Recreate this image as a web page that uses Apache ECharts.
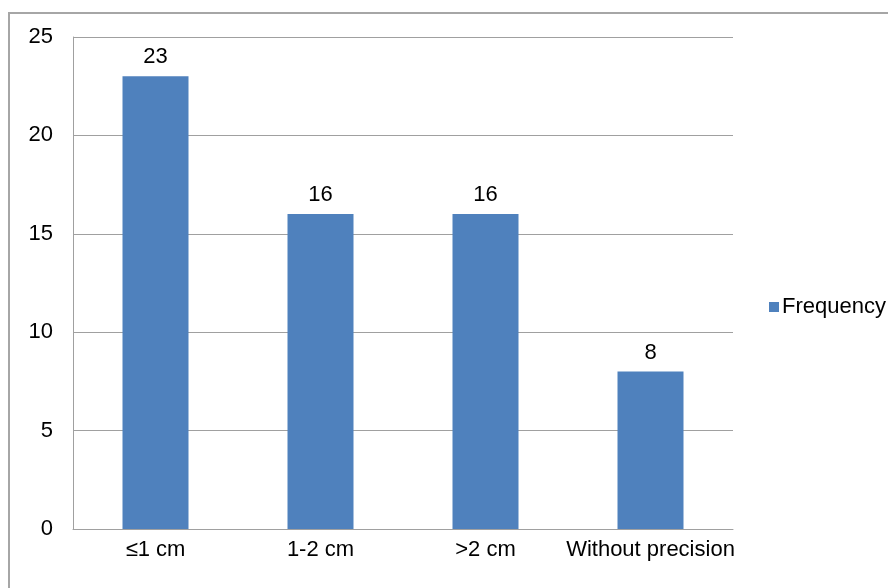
<!DOCTYPE html>
<html>
<head>
<meta charset="utf-8">
<script src="https://cdn.jsdelivr.net/npm/echarts@6/dist/echarts.min.js"></script>
<style>
  html, body { margin: 0; padding: 0; background: #fff; }
  #chart { width: 888px; height: 588px; }
</style>
</head>
<body>
<div id="chart"></div>
<script>
// Tumour size groups and their counts
const categories = ['≤1 cm', '1-2 cm', '>2 cm', 'Without precision'];
const frequency = [23, 16, 16, 8];
const seriesName = 'Frequency';

const FONT = '"Liberation Sans", Arial, sans-serif';
const FS = 22;
const chart = echarts.init(document.getElementById('chart'), null, { renderer: 'canvas' });

chart.setOption({
  animation: false,
  backgroundColor: '#ffffff',
  textStyle: { fontFamily: FONT },
  graphic: [{
    type: 'polyline',
    shape: { points: [[9, 588], [9, 13], [888, 13]] },
    style: { stroke: '#a6a6a6', lineWidth: 2, fill: null },
    silent: true
  }],
  legend: {
    data: [seriesName],
    left: 764,
    top: 291,
    orient: 'vertical',
    icon: 'rect',
    itemWidth: 10,
    itemHeight: 10,
    itemGap: 5,
    textStyle: { fontFamily: FONT, fontSize: FS, color: '#000', padding: [0, 0, 0, -2] }
  },
  grid: { left: 73, right: 155, top: 37, bottom: 59, containLabel: false },
  xAxis: {
    type: 'category',
    data: categories,
    axisLine: { show: true, lineStyle: { color: '#a0a0a0', width: 1 } },
    axisTick: { show: false },
    axisLabel: { fontFamily: FONT, fontSize: FS, color: '#000', margin: 10, interval: 0 }
  },
  yAxis: {
    type: 'value',
    min: 0,
    max: 25,
    interval: 5,
    axisLine: { show: true, lineStyle: { color: '#a0a0a0', width: 1 } },
    axisTick: { show: false },
    axisLabel: { fontFamily: FONT, fontSize: FS, color: '#000', margin: 20 },
    splitLine: { show: true, lineStyle: { color: '#a0a0a0', width: 1 } }
  },
  series: [{
    name: seriesName,
    type: 'bar',
    data: frequency,
    barWidth: '40%',
    itemStyle: { color: '#4F81BD' },
    label: {
      show: true,
      position: 'top',
      distance: 8,
      fontFamily: FONT,
      fontSize: FS,
      color: '#000'
    }
  }]
});
</script>
</body>
</html>
